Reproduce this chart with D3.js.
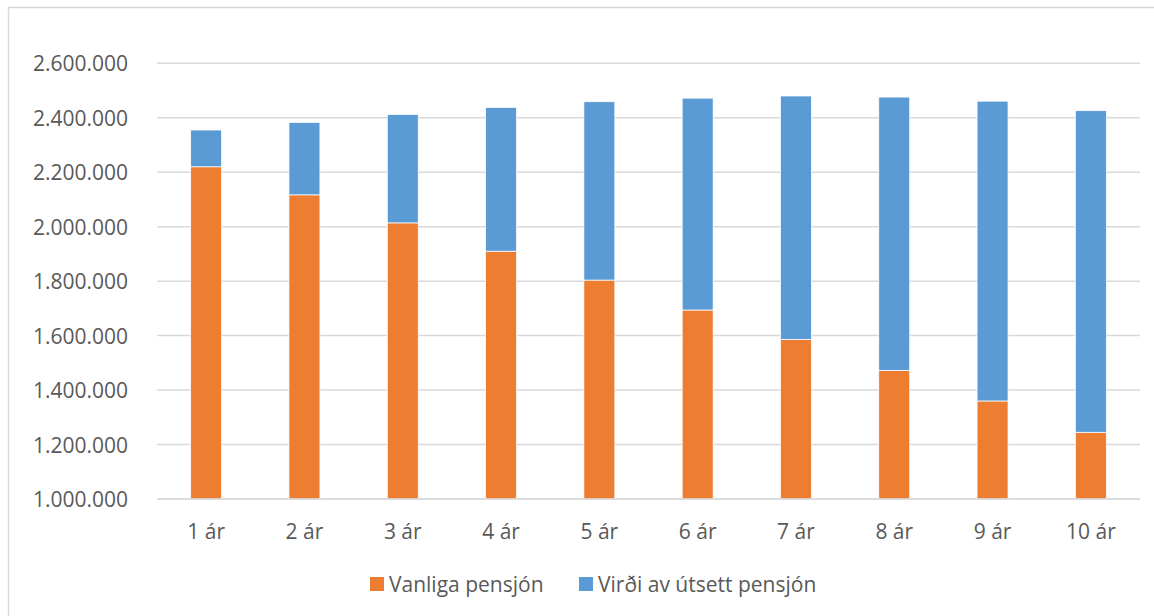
<!DOCTYPE html>
<html><head><meta charset="utf-8">
<script src="https://cdn.jsdelivr.net/npm/d3@7/dist/d3.min.js"></script>
<style>html,body{margin:0;padding:0;background:#fff;}svg{display:block;}</style>
</head><body>
<svg id="chart" width="1154" height="616"></svg>
<script>
const categories = ["1 ár","2 ár","3 ár","4 ár","5 ár","6 ár","7 ár","8 ár","9 ár","10 ár"];
const vanliga = [2220000,2117000,2014000,1910000,1804000,1694000,1586000,1472000,1360000,1245000];
const utsett  = [135000,266000,398000,528000,655000,778000,894000,1004000,1101000,1181000];
const yTicks = [1000000,1200000,1400000,1600000,1800000,2000000,2200000,2400000,2600000];
const seriesNames = ["Vanliga pensjón","Virði av útsett pensjón"];
const colors = ["#ED7D31","#5B9BD5"];

const svg = d3.select("#chart");
const font = "'Open Sans', sans-serif";
const fontSize = "21px";
const textColor = "#595959";

// outer chart border
svg.append("rect").attr("x",8.5).attr("y",7.5).attr("width",1200).attr("height",700)
  .attr("fill","none").attr("stroke","#d9d9d9").attr("stroke-width",1.5);

const x = d3.scaleBand().domain(categories).range([157,1140]).paddingInner(0.685).paddingOuter(0.3425);
const y = d3.scaleLinear().domain([1000000,2600000]).range([499,63.3]);
const fmt = v => d3.format(",")(v).replace(/,/g,".");

// gridlines
svg.append("g").selectAll("line").data(yTicks).join("line")
  .attr("x1",157).attr("x2",1140)
  .attr("y1",d=>y(d)).attr("y2",d=>y(d))
  .attr("stroke","#d9d9d9").attr("stroke-width",1.5);

// y axis labels
const yAxis = d3.axisLeft(y).tickValues(yTicks).tickFormat(fmt).tickSize(0).tickPadding(0);
const yg = svg.append("g").attr("transform","translate(128,0)").call(yAxis);
yg.select(".domain").remove();
yg.selectAll("text").attr("font-family",font).attr("font-size",fontSize).attr("fill",textColor).attr("dy","0.36em");

// bars
const base = y.domain()[0];
const stacked = categories.map((c,i)=>({c, o:vanliga[i], b:utsett[i]}));
const g = svg.append("g");
g.selectAll("rect.o").data(stacked).join("rect").attr("class","o")
  .attr("x",d=>x(d.c)).attr("width",x.bandwidth())
  .attr("y",d=>y(d.o)).attr("height",d=>y(base)-y(d.o))
  .attr("fill",colors[0]).attr("stroke","#fff").attr("stroke-width",0.75);
g.selectAll("rect.b").data(stacked).join("rect").attr("class","b")
  .attr("x",d=>x(d.c)).attr("width",x.bandwidth())
  .attr("y",d=>y(d.o+d.b)).attr("height",d=>y(d.o)-y(d.o+d.b))
  .attr("fill",colors[1]).attr("stroke","#fff").attr("stroke-width",0.75);

// x axis line
svg.append("line").attr("x1",157).attr("x2",1140).attr("y1",y(base)).attr("y2",y(base))
  .attr("stroke","#d9d9d9").attr("stroke-width",1.5);

// x labels
const xAxis = d3.axisBottom(x).tickSize(0).tickPadding(0);
const xg = svg.append("g").attr("transform","translate(0,531)").call(xAxis);
xg.select(".domain").remove();
xg.selectAll("text").attr("font-family",font).attr("font-size",fontSize).attr("fill",textColor).attr("dy","0.36em");

// legend
const legendItems = [{name:seriesNames[0],color:colors[0],x:370},{name:seriesNames[1],color:colors[1],x:579}];
const lg = svg.append("g");
legendItems.forEach(it=>{
  lg.append("rect").attr("x",it.x).attr("y",577).attr("width",14).attr("height",14).attr("fill",it.color);
  lg.append("text").attr("x",it.x+19).attr("y",584).attr("dy","0.36em")
    .attr("font-family",font).attr("font-size",fontSize).attr("fill",textColor).text(it.name);
});
</script>
</body></html>
